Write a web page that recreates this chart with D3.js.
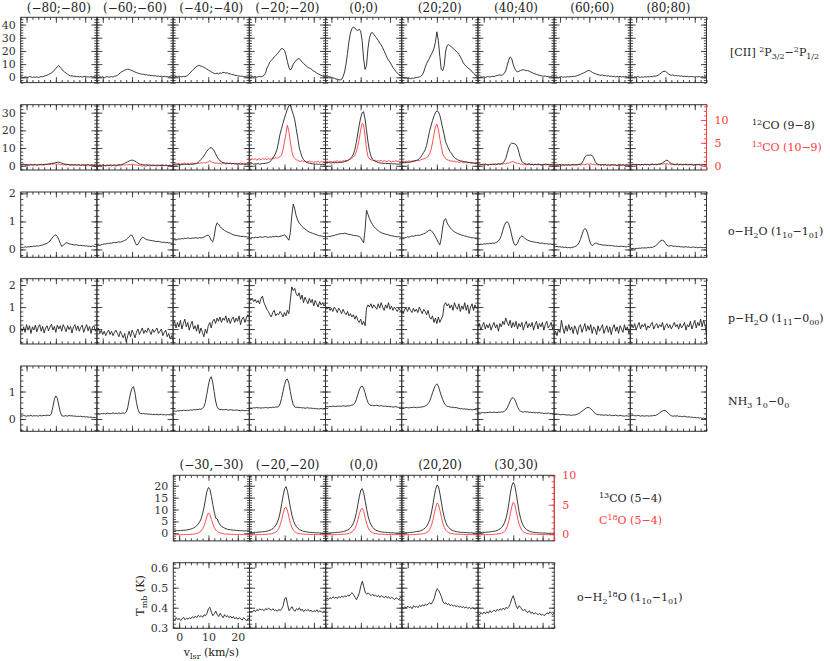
<!DOCTYPE html>
<html>
<head>
<meta charset="utf-8">
<script src="https://cdn.jsdelivr.net/npm/d3@7"></script>
<style>
  body { margin: 0; background: #fff; }
  svg { display: block; }
  .tick text { font-family: "DejaVu Serif", serif; font-size: 11px; }
  .lbl { font-family: "DejaVu Serif", serif; font-size: 12px; white-space: pre; }
  .name { font-size: 11px; }
</style>
</head>
<body>
<div id="chart"></div>
<script>
// channels: -2 .. 24 km/s, 0.5 km/s wide
let velocity = d3.range(0, 53).map(i => -2 + 0.5 * i);

let topOffsets = ["(−80;−80)", "(−60;−60)", "(−40;−40)", "(−20;−20)", "(0;0)", "(20;20)", "(40;40)", "(60;60)", "(80;80)"];
let bottomOffsets = ["(−30,−30)", "(−20,−20)", "(0,0)", "(20,20)", "(30,30)"];

let vTicks = [0, 10, 20];

// [CII] 2P3/2-2P1/2
let cII = [
  [0.5,0.2,-0.3,0.4,0.1,-0.2,0.6,0.3,-0.1,0.2, 0.0,0.4,-0.2,0.3,0.6,0.4,0.9,1.2,1.6,2.2, 2.8,3.4,4.2,5.5,6.8,8.0,9.0,7.5,6.2,4.8, 4.0,3.2,2.4,1.6,1.0,1.2,0.7,0.9,0.5,0.7, 0.3,0.6,0.2,0.5,0.8,0.3,0.4,0.1,0.6,0.2, 0.5,0.3,0.4],
  [0.3,-0.2,0.5,0.1,0.4,-0.3,0.2,0.6,0.0,0.3, 0.5,0.2,0.8,1.0,1.5,2.5,3.5,4.2,4.8,5.5, 5.8,6.2,5.9,5.5,5.0,4.6,4.0,3.6,3.2,2.8, 2.6,2.2,2.4,1.8,2.0,1.5,1.6,1.2,1.4,1.0, 1.2,0.8,1.0,0.6,0.9,0.5,0.7,0.4,0.6,0.3, 0.5,0.2,0.4],
  [0.6,0.2,0.8,0.4,0.9,0.5,0.3,0.7,0.5,0.8, 1.5,2.5,3.8,5.0,6.2,7.2,8.2,8.8,9.0,8.5, 8.2,7.5,7.0,6.2,5.6,5.0,4.2,3.6,3.0,2.8, 3.2,2.6,3.4,3.0,3.8,3.6,3.2,3.4,2.8,2.6, 2.2,2.0,1.6,1.4,1.2,1.0,0.8,0.9,0.6,0.5, 0.4,0.3,0.2],
  [0.5,0.2,0.8,0.3,0.6,0.1,0.4,0.7,0.3,0.8, 1.5,3.0,6.8,9.0,11.5,12.8,14.0,15.5,16.5,17.5, 19.0,20.5,22.0,21.5,20.5,17.0,12.0,7.5,5.5,7.0, 10.0,11.5,13.0,13.8,14.3,13.0,11.5,10.5,9.5,8.5, 7.5,7.0,6.5,5.5,4.8,4.0,3.2,2.5,2.0,1.5, 1.0,0.6,0.3],
  [0.5,0.3,0.6,0.2,0.0,-0.4,-0.8,-1.2,-1.5,-1.8, -2.0,-1.5,0.5,4.0,10.0,18.0,27.0,33.5,37.0,38.0, 37.5,36.0,35.5,36.5,35.0,28.0,14.0,6.0,9.0,22.0, 30.0,33.5,34.0,32.5,31.0,29.5,28.0,26.0,24.5,22.5, 20.0,17.5,15.0,13.0,11.5,9.5,7.5,6.0,4.5,3.2, 2.2,1.5,1.0],
  [0.5,0.0,-0.5,-0.3,-0.8,-0.5,-1.0,-0.6,-0.8,-0.4, -0.2,0.0,0.3,0.8,1.8,4.0,7.5,10.5,12.5,14.5, 17.0,19.0,22.0,26.5,34.5,28.0,16.0,6.0,5.0,9.0, 20.0,24.0,24.8,24.0,23.0,22.0,21.0,20.0,18.8,17.5, 15.5,13.5,11.0,9.5,8.5,7.2,6.5,5.5,4.5,3.0, 2.0,1.0,0.5],
  [0.3,-0.2,0.4,0.1,0.5,-0.1,0.3,0.6,0.2,0.5, 0.8,0.6,1.0,1.4,1.6,1.8,1.5,2.0,3.0,5.0, 9.0,13.0,15.5,14.5,10.0,7.0,5.0,4.2,4.5,5.2, 5.5,5.8,5.5,5.0,5.2,4.6,4.0,3.6,3.0,2.6, 2.2,1.9,1.5,1.3,1.0,0.8,1.0,0.5,0.7,0.3, 0.5,0.2,0.4],
  [0.4,0.0,0.3,-0.2,0.2,0.5,0.0,0.4,0.1,0.5, 0.3,0.6,0.4,0.8,0.7,1.0,1.4,1.8,2.2,2.8, 3.3,3.8,4.4,5.0,5.2,4.6,3.8,3.2,2.8,2.4, 2.0,1.7,1.5,1.8,1.2,1.4,0.9,1.2,0.7,1.0, 0.5,0.8,0.3,0.6,0.4,0.7,0.2,0.5,0.3,0.6, 0.2,0.4,0.1],
  [0.2,0.5,0.0,0.4,0.1,0.6,0.2,-0.1,0.4,0.0, 0.5,0.2,0.6,0.3,0.7,0.4,1.0,0.8,1.2,1.5, 2.5,3.2,4.2,4.6,4.5,3.6,2.6,2.0,1.5,1.8, 1.2,1.5,1.0,1.3,0.8,1.1,0.6,0.9,0.5,0.8, 0.3,0.7,0.4,0.6,0.2,0.5,0.3,0.6,0.1,0.4, 0.2,0.5,0.1]
];

// 12CO (9-8)
let co12 = [
  [0.8,0.5,0.7,0.4,0.6,0.5,0.3,0.6,0.4,0.5, 0.6,0.4,0.5,0.7,0.5,0.6,0.7,0.8,0.9,1.0, 1.1,1.2,1.4,1.6,1.8,1.9,2.0,1.8,1.5,1.2, 1.0,0.8,0.7,0.6,0.5,0.6,0.4,0.5,0.3,0.5, 0.4,0.3,0.5,0.2,0.4,0.3,0.5,0.2,0.3,0.4, 0.2,0.3,0.2],
  [0.5,0.3,0.4,0.2,0.5,0.3,0.1,0.4,0.2,0.3, 0.4,0.2,0.5,0.3,0.4,0.6,0.5,0.8,1.0,1.4, 1.8,2.2,2.7,3.0,3.2,3.0,2.6,2.0,1.5,1.0, 0.8,0.6,0.5,0.4,0.6,0.3,0.5,0.2,0.4,0.3, 0.2,0.4,0.1,0.3,0.2,0.4,0.1,0.3,0.2,0.1, 0.3,0.1,0.2],
  [0.5,0.7,0.4,0.6,0.8,0.5,0.7,0.6,0.9,0.7, 0.8,0.6,0.9,0.8,1.0,1.1,1.3,1.8,2.6,3.5, 4.5,5.5,6.8,8.2,9.2,10.0,10.2,9.6,8.4,6.8, 5.0,3.8,2.8,2.2,1.8,1.6,1.4,1.5,1.2,1.4, 1.1,1.3,1.0,1.2,0.9,1.1,0.8,1.0,0.9,0.7, 0.9,0.8,0.7],
  [1.2,1.0,1.3,0.9,1.1,1.0,1.2,0.9,1.1,1.3, 1.2,1.4,1.5,1.8,2.2,3.0,4.2,5.5,7.2,9.5, 13.5,18.0,21.0,24.0,27.0,29.5,32.0,34.0,34.4,31.5, 29.0,26.0,21.0,16.0,10.5,7.5,5.0,3.5,2.6,2.0, 1.6,1.4,1.3,1.1,1.0,0.9,1.0,0.8,0.9,0.7, 0.8,0.7,0.8],
  [1.8,1.6,1.9,1.7,1.5,1.8,1.6,1.9,1.7,1.8, 2.0,1.8,2.1,2.3,2.6,2.9,3.4,4.2,5.2,6.5, 9.0,13.0,18.0,23.0,27.0,30.0,30.5,26.5,20.0,13.5, 8.5,5.5,3.8,3.0,2.5,2.2,1.8,1.6,1.5,1.4, 1.3,1.4,1.2,1.3,1.1,1.2,1.0,1.1,1.0,0.9, 1.0,0.9,1.0],
  [1.8,2.0,1.7,1.9,1.8,2.0,2.1,2.3,2.5,2.8, 3.0,3.3,4.0,5.0,6.2,7.5,9.0,11.5,15.5,19.5, 22.5,25.5,28.0,30.0,31.0,30.5,28.5,25.0,21.0,17.5, 13.5,11.5,9.5,8.0,7.0,5.5,4.6,4.0,3.5,3.0, 2.8,2.6,2.4,2.2,2.3,2.0,1.8,1.9,1.6,1.5, 1.4,1.3,1.4],
  [0.6,0.9,0.5,0.8,0.6,1.0,0.7,0.5,0.8,0.6, 0.9,0.7,1.0,0.8,1.1,1.0,1.2,1.5,2.5,4.0, 7.0,10.0,12.0,12.8,12.6,12.4,12.0,10.5,7.5,4.5, 2.5,1.6,1.2,1.0,0.8,0.9,0.7,0.8,0.6,0.9, 0.7,0.5,0.8,0.6,0.4,0.7,0.5,0.8,0.6,0.4, 0.7,0.5,0.6],
  [0.4,0.6,0.3,0.5,0.7,0.4,0.6,0.3,0.5,0.4, 0.6,0.3,0.5,0.7,0.4,0.6,0.5,0.8,1.0,1.5, 3.0,5.0,5.8,6.0,5.9,6.1,5.8,4.5,2.5,1.2, 0.8,0.6,0.5,0.7,0.4,0.6,0.3,0.5,0.4,0.6, 0.3,0.5,0.4,0.2,0.5,0.3,0.4,0.6,0.3,0.4, 0.5,0.3,0.4],
  [0.7,0.5,0.8,0.6,0.9,0.5,0.7,0.6,0.8,0.5, 0.7,0.6,0.8,0.5,0.7,0.9,0.6,0.8,0.7,0.9, 1.0,1.2,1.6,2.2,2.8,3.2,2.6,1.8,1.2,0.9, 0.8,0.6,0.9,0.5,0.7,0.8,0.5,0.7,0.6,0.8, 0.5,0.7,0.6,0.4,0.7,0.5,0.8,0.6,0.4,0.6, 0.7,0.5,0.6]
];

// 13CO (10-9), right-hand scale
let co13 = [
  [0.35,0.2,0.4,0.15,0.3,0.1,0.25,0.35,0.1,0.2, 0.3,0.05,0.25,0.15,0.35,0.2,0.1,0.3,0.2,0.35, 0.25,0.4,0.3,0.45,0.35,0.3,0.4,0.2,0.3,0.15, 0.25,0.1,0.3,0.2,0.05,0.25,0.15,0.3,0.1,0.2, 0.25,0.05,0.2,0.3,0.1,0.2,0.35,0.15,0.25,0.1, 0.2,0.3,0.15],
  [0.1,0.0,0.15,-0.05,0.1,0.05,-0.1,0.1,0.0,0.15, -0.05,0.1,0.0,-0.1,0.05,0.15,0.0,0.1,0.2,0.1, 0.25,0.15,0.3,0.2,0.35,0.25,0.15,0.2,0.05,0.1, 0.0,-0.1,0.05,-0.15,0.0,0.1,-0.1,0.05,-0.05,0.1, 0.0,-0.1,0.1,0.05,-0.05,0.1,0.0,0.15,-0.05,0.1, 0.05,-0.05,0.1],
  [0.5,0.35,0.6,0.4,0.55,0.3,0.5,0.45,0.6,0.4, 0.55,0.35,0.5,0.6,0.4,0.55,0.45,0.6,0.5,0.65, 0.55,0.7,0.6,0.75,0.85,1.1,0.9,0.7,0.6,0.55, 0.6,0.45,0.55,0.4,0.6,0.5,0.35,0.55,0.45,0.6, 0.4,0.5,0.55,0.35,0.5,0.45,0.6,0.4,0.5,0.55, 0.45,0.5,0.4],
  [1.4,1.2,1.5,1.3,1.6,1.2,1.4,1.5,1.3,1.6, 1.4,1.5,1.3,1.6,1.4,1.5,1.7,1.5,1.8,1.6, 1.8,2.0,2.3,3.5,5.2,7.0,8.9,7.5,5.3,3.2, 2.0,1.6,1.3,1.2,1.0,0.9,1.1,0.9,1.0,0.8, 0.9,1.0,0.8,0.9,0.7,0.9,0.8,1.0,0.7,0.9, 0.8,0.9,0.7],
  [0.9,1.0,0.8,1.0,0.9,0.8,1.0,0.9,1.1,0.9, 1.0,0.9,1.1,1.0,1.2,1.1,1.3,1.4,1.6,1.9, 2.3,3.0,4.2,5.8,7.8,9.3,9.0,6.5,3.6,2.0, 1.5,1.3,1.2,1.1,1.2,1.0,1.1,1.0,1.2,0.9, 1.1,1.0,0.9,1.1,1.0,0.8,1.0,0.9,1.1,0.9, 1.0,0.9,1.0],
  [0.9,1.0,0.8,1.0,0.9,1.1,0.9,1.0,1.1,1.0, 1.1,1.2,1.1,1.3,1.4,1.5,1.6,1.8,2.0,2.6, 3.5,5.0,6.8,8.5,9.1,8.0,6.0,4.2,2.6,2.0, 1.5,1.3,1.2,1.0,1.1,0.9,1.0,0.8,0.9,0.7, 0.8,0.9,0.6,0.8,0.7,0.6,0.8,0.5,0.7,0.6, 0.5,0.6,0.5],
  [0.3,0.1,0.35,0.2,0.4,0.15,0.3,0.05,0.25,0.35, 0.2,0.4,0.15,0.3,0.45,0.25,0.4,0.3,0.5,0.4, 0.6,0.5,0.7,0.8,0.9,0.75,0.6,0.45,0.55,0.3, 0.4,0.2,0.35,0.15,0.3,0.45,0.2,0.35,0.1,0.3, 0.2,0.4,0.25,0.1,0.3,0.2,0.45,0.15,0.3,0.25, 0.1,0.3,0.2],
  [0.2,0.05,0.25,0.1,0.3,0.0,0.2,0.15,0.3,0.05, 0.2,0.1,0.25,0.05,0.3,0.15,0.2,0.35,0.1,0.25, 0.3,0.2,0.35,0.4,0.3,0.45,0.25,0.3,0.15,0.3, 0.1,0.25,0.0,0.2,0.15,0.3,0.05,0.2,-0.05,0.15, 0.25,0.1,0.2,-0.05,0.15,0.3,0.05,0.2,0.1,0.25, 0.05,0.15,0.1],
  [0.3,0.15,0.35,0.2,0.1,0.3,0.25,0.05,0.3,0.2, 0.35,0.15,0.3,0.1,0.25,0.4,0.2,0.3,0.15,0.35, 0.25,0.4,0.3,0.45,0.35,0.5,0.3,0.4,0.2,0.35, 0.15,0.3,0.4,0.2,0.35,0.1,0.3,0.25,0.4,0.15, 0.3,0.2,0.35,0.1,0.25,0.3,0.15,0.35,0.2,0.1, 0.3,0.2,0.25]
];

// o-H2O (1_10-1_01)
let oH2O = [
  [0.05,0.08,0.06,0.1,0.08,0.1,0.09,0.11,0.1,0.12, 0.11,0.13,0.12,0.14,0.15,0.16,0.18,0.2,0.22,0.26, 0.3,0.38,0.45,0.5,0.52,0.46,0.35,0.22,0.11,0.14, 0.2,0.24,0.23,0.2,0.19,0.18,0.17,0.16,0.17,0.15, 0.14,0.15,0.13,0.14,0.12,0.13,0.11,0.12,0.1,0.13, 0.11,0.1,0.12],
  [0.12,0.15,0.14,0.17,0.18,0.2,0.19,0.22,0.21,0.23, 0.22,0.24,0.25,0.24,0.26,0.27,0.26,0.28,0.3,0.32, 0.35,0.4,0.46,0.51,0.5,0.4,0.26,0.16,0.18,0.28, 0.38,0.43,0.42,0.38,0.35,0.34,0.33,0.32,0.31,0.3, 0.29,0.28,0.29,0.27,0.26,0.25,0.26,0.24,0.25,0.23, 0.24,0.22,0.23],
  [0.32,0.35,0.34,0.36,0.38,0.37,0.39,0.38,0.4,0.39, 0.41,0.4,0.39,0.41,0.4,0.42,0.41,0.4,0.42,0.41, 0.42,0.44,0.47,0.5,0.51,0.45,0.32,0.27,0.45,0.8, 0.95,0.9,0.82,0.76,0.72,0.68,0.65,0.62,0.6,0.58, 0.55,0.52,0.51,0.5,0.49,0.48,0.47,0.46,0.47,0.45, 0.46,0.44,0.45],
  [0.42,0.4,0.43,0.41,0.44,0.43,0.42,0.45,0.44,0.43, 0.45,0.46,0.44,0.43,0.45,0.44,0.46,0.45,0.47,0.46, 0.45,0.47,0.48,0.5,0.52,0.48,0.4,0.33,0.6,1.2, 1.62,1.45,1.2,1.05,0.95,0.88,0.82,0.77,0.73,0.69, 0.65,0.62,0.6,0.58,0.56,0.54,0.53,0.5,0.49,0.48, 0.47,0.46,0.45],
  [0.46,0.45,0.47,0.46,0.48,0.49,0.5,0.52,0.53,0.55, 0.56,0.57,0.56,0.58,0.57,0.55,0.54,0.53,0.52,0.5, 0.5,0.49,0.48,0.46,0.42,0.33,0.24,0.7,1.4,1.25, 1.1,0.98,0.9,0.82,0.76,0.71,0.67,0.63,0.6,0.58, 0.56,0.55,0.53,0.52,0.5,0.49,0.48,0.47,0.46,0.45, 0.46,0.44,0.45],
  [0.4,0.42,0.41,0.43,0.45,0.44,0.46,0.48,0.47,0.49, 0.5,0.51,0.5,0.52,0.54,0.56,0.58,0.62,0.66,0.69, 0.68,0.62,0.55,0.45,0.35,0.25,0.16,0.4,0.8,1.05, 1.1,0.95,0.85,0.78,0.72,0.67,0.63,0.6,0.57,0.55, 0.53,0.51,0.5,0.48,0.47,0.45,0.44,0.43,0.41,0.42, 0.4,0.41,0.39],
  [0.18,0.17,0.19,0.18,0.2,0.19,0.21,0.2,0.22,0.21, 0.23,0.22,0.24,0.26,0.3,0.38,0.5,0.68,0.85,0.96, 0.99,0.92,0.75,0.52,0.3,0.17,0.15,0.22,0.35,0.44, 0.48,0.45,0.4,0.36,0.33,0.31,0.29,0.28,0.27,0.26, 0.25,0.24,0.23,0.22,0.23,0.21,0.2,0.21,0.19,0.2, 0.19,0.18,0.2],
  [0.12,0.1,0.11,0.09,0.1,0.08,0.09,0.07,0.08,0.06, 0.07,0.06,0.07,0.08,0.1,0.12,0.16,0.24,0.36,0.52, 0.68,0.75,0.7,0.55,0.35,0.2,0.14,0.17,0.23,0.22, 0.19,0.18,0.17,0.16,0.15,0.16,0.14,0.15,0.13,0.14, 0.13,0.12,0.11,0.12,0.1,0.11,0.12,0.1,0.11,0.09, 0.1,0.11,0.09],
  [0.05,0.03,0.04,0.02,0.04,0.03,0.05,0.04,0.06,0.05, 0.06,0.05,0.07,0.06,0.08,0.07,0.1,0.12,0.16,0.22, 0.28,0.32,0.33,0.3,0.22,0.15,0.12,0.13,0.14,0.12, 0.11,0.12,0.1,0.11,0.09,0.1,0.08,0.09,0.1,0.08, 0.09,0.07,0.08,0.09,0.07,0.08,0.06,0.07,0.08,0.06, 0.07,0.06,0.08]
];

// p-H2O (1_11-0_00)
let pH2O = [
  [0.05,-0.1,0.1,-0.15,0.2,-0.05,0.15,-0.2,0.1,-0.05, 0.18,-0.12,0.08,0.2,-0.1,0.12,-0.18,0.05,0.15,-0.08, 0.1,0.22,-0.05,0.12,-0.15,0.18,0.0,0.15,-0.1,0.2, 0.05,-0.12,0.16,-0.02,0.12,-0.18,0.1,0.2,-0.06,0.14, -0.1,0.08,0.18,-0.15,0.05,0.2,-0.08,0.12,-0.2,0.1, 0.15,-0.1,0.05],
  [-0.1,0.05,-0.2,-0.05,-0.25,-0.1,-0.3,-0.15,-0.05,-0.25, -0.1,-0.3,-0.15,-0.05,-0.2,-0.35,-0.1,-0.25,-0.4,-0.2, -0.6,-0.3,-0.1,-0.35,-0.05,-0.2,-0.4,-0.15,0.0,-0.25, -0.1,0.05,-0.2,-0.05,-0.15,0.05,-0.1,-0.25,0.0,-0.15, -0.05,0.05,-0.2,-0.1,0.0,-0.3,-0.15,-0.05,-0.35,-0.2, -0.45,-0.3,-0.5],
  [0.2,0.35,0.05,0.3,0.1,0.4,0.0,0.25,0.45,0.1, 0.3,-0.05,0.2,0.35,0.0,0.15,-0.1,0.2,-0.2,0.05, -0.15,-0.35,0.0,-0.2,0.15,0.3,0.05,0.35,0.45,0.25, 0.5,0.35,0.55,0.3,0.5,0.4,0.6,0.3,0.5,0.25, 0.45,0.55,0.3,0.5,0.35,0.6,0.2,0.45,0.55,0.3, 0.5,0.65,0.55],
  [1.45,1.3,1.4,1.25,1.35,1.2,1.3,1.15,1.4,1.5, 1.2,1.05,0.9,0.8,0.65,0.55,0.75,0.85,0.6,0.7, 0.65,0.8,0.7,0.55,0.75,0.6,0.85,0.7,1.3,1.92, 1.75,1.85,1.6,1.5,1.65,1.35,1.55,1.2,1.45,1.3, 1.15,1.4,1.2,1.35,1.05,1.3,1.15,1.0,1.25,1.1, 1.2,1.05,1.15],
  [1.05,0.9,1.0,0.85,0.95,0.8,1.0,0.9,0.75,0.95, 0.85,0.7,0.9,0.75,0.65,0.8,0.6,0.7,0.55,0.65, 0.45,0.6,0.4,0.3,0.45,0.2,0.35,0.15,0.95,1.1, 1.0,1.15,0.95,1.1,1.0,0.9,1.15,0.95,1.2,1.0, 0.85,1.1,0.95,1.2,0.9,1.05,0.85,1.0,0.9,0.8, 0.95,0.85,0.75],
  [0.85,0.7,0.9,0.95,0.8,1.0,0.85,0.75,0.95,0.8, 0.9,0.75,1.0,0.85,0.7,0.9,0.8,0.65,0.85,0.55, 0.45,0.6,0.3,0.5,0.25,0.55,0.3,0.45,0.6,1.1, 1.2,1.05,1.15,0.95,1.1,0.85,1.2,1.0,0.9,1.15, 0.8,1.05,0.9,1.2,0.85,1.1,0.7,1.0,1.15,0.85, 1.1,0.95,1.0],
  [0.1,0.25,-0.05,0.15,0.3,0.0,0.2,0.05,0.25,-0.05, 0.15,0.3,0.05,0.2,-0.1,0.25,0.1,0.35,0.2,0.5, 0.3,0.15,0.4,0.05,0.3,0.1,0.35,0.0,0.25,0.1, 0.3,-0.05,0.2,0.35,0.05,0.25,0.1,0.3,-0.05,0.2, 0.35,0.0,0.25,0.1,0.3,-0.05,0.2,0.35,0.05,0.15, 0.3,0.0,0.2],
  [-0.25,-0.1,-0.3,0.0,-0.15,0.4,0.05,-0.2,0.15,-0.1, 0.2,-0.05,0.1,-0.2,0.15,0.0,-0.25,0.1,0.2,-0.15, 0.05,0.25,-0.1,0.15,-0.05,0.2,-0.2,0.1,0.0,-0.25, 0.15,-0.1,0.05,0.2,-0.2,0.0,0.15,-0.15,0.1,-0.25, 0.05,0.2,-0.1,0.1,-0.2,0.15,0.0,-0.15,0.2,-0.05, 0.1,-0.2,0.0],
  [0.0,0.2,0.05,0.25,-0.05,0.15,0.3,0.0,0.2,0.1, 0.25,-0.05,0.15,0.05,0.2,0.3,0.0,0.15,0.25,0.05, 0.2,0.1,0.3,-0.05,0.15,0.25,0.05,0.2,0.0,0.15, 0.3,0.1,0.2,0.0,0.25,0.05,0.15,0.3,-0.05,0.2, 0.1,0.35,0.0,0.2,0.4,0.05,0.3,0.15,0.45,0.1, 0.4,0.2,-0.3]
];

// NH3 1_0-0_0
let nh3 = [
  [0.12,0.1,0.13,0.11,0.1,0.12,0.11,0.13,0.1,0.12, 0.11,0.12,0.1,0.13,0.11,0.12,0.13,0.12,0.14,0.13, 0.12,0.2,0.45,0.72,0.84,0.75,0.5,0.25,0.12,0.1, 0.11,0.12,0.1,0.13,0.11,0.12,0.1,0.11,0.09,0.1, 0.09,0.1,0.08,0.09,0.07,0.08,0.07,0.06,0.07,0.05, 0.06,0.05,0.06],
  [0.18,0.19,0.17,0.2,0.19,0.2,0.18,0.21,0.2,0.19, 0.2,0.22,0.2,0.21,0.19,0.22,0.2,0.21,0.22,0.2, 0.25,0.4,0.7,0.95,1.12,1.18,0.95,0.6,0.35,0.22, 0.2,0.19,0.2,0.18,0.19,0.17,0.18,0.17,0.16,0.17, 0.16,0.17,0.15,0.16,0.17,0.15,0.16,0.14,0.16,0.15, 0.16,0.14,0.15],
  [0.27,0.29,0.28,0.3,0.29,0.31,0.3,0.32,0.31,0.3, 0.32,0.31,0.33,0.32,0.34,0.33,0.35,0.34,0.36,0.35, 0.38,0.44,0.6,0.9,1.2,1.45,1.54,1.35,1.0,0.65, 0.45,0.36,0.34,0.35,0.33,0.34,0.35,0.33,0.32,0.34, 0.33,0.32,0.31,0.33,0.32,0.31,0.3,0.32,0.31,0.3, 0.31,0.3,0.32],
  [0.38,0.4,0.39,0.41,0.4,0.42,0.4,0.41,0.39,0.41, 0.4,0.42,0.41,0.4,0.42,0.41,0.43,0.42,0.44,0.43, 0.45,0.55,0.75,1.0,1.25,1.42,1.46,1.3,1.0,0.72, 0.52,0.44,0.42,0.43,0.41,0.42,0.4,0.41,0.39,0.4, 0.41,0.39,0.4,0.38,0.39,0.37,0.38,0.36,0.37,0.38, 0.36,0.37,0.36],
  [0.44,0.45,0.44,0.46,0.45,0.47,0.46,0.45,0.47,0.46, 0.47,0.46,0.48,0.47,0.46,0.48,0.47,0.49,0.5,0.52, 0.58,0.7,0.88,1.05,1.17,1.2,1.12,0.95,0.75,0.6, 0.52,0.49,0.5,0.48,0.49,0.5,0.48,0.47,0.49,0.47, 0.46,0.47,0.45,0.46,0.44,0.45,0.43,0.44,0.45,0.43, 0.42,0.43,0.41],
  [0.4,0.41,0.4,0.42,0.41,0.4,0.42,0.41,0.43,0.42, 0.41,0.43,0.42,0.43,0.44,0.45,0.47,0.5,0.56,0.64, 0.78,0.95,1.1,1.22,1.28,1.2,1.02,0.85,0.7,0.58, 0.5,0.46,0.45,0.44,0.42,0.43,0.41,0.42,0.4,0.39, 0.37,0.38,0.36,0.37,0.35,0.36,0.34,0.35,0.33,0.34, 0.35,0.33,0.34],
  [0.22,0.23,0.21,0.24,0.23,0.22,0.24,0.23,0.25,0.24, 0.23,0.25,0.24,0.23,0.25,0.24,0.26,0.25,0.28,0.32, 0.4,0.52,0.65,0.75,0.78,0.72,0.6,0.45,0.34,0.28, 0.26,0.25,0.27,0.25,0.26,0.24,0.25,0.23,0.24,0.22, 0.23,0.22,0.24,0.21,0.22,0.2,0.21,0.2,0.22,0.19, 0.2,0.19,0.21],
  [0.17,0.16,0.18,0.17,0.16,0.15,0.17,0.16,0.15,0.14, 0.15,0.14,0.13,0.15,0.14,0.16,0.18,0.2,0.24,0.28, 0.32,0.36,0.4,0.42,0.41,0.37,0.32,0.26,0.2,0.17, 0.15,0.16,0.14,0.15,0.13,0.15,0.14,0.13,0.15,0.12, 0.13,0.12,0.14,0.12,0.11,0.13,0.12,0.11,0.1,0.12, 0.11,0.1,0.11],
  [0.13,0.12,0.14,0.12,0.11,0.13,0.12,0.1,0.12,0.11, 0.1,0.12,0.11,0.1,0.12,0.11,0.13,0.12,0.15,0.18, 0.22,0.26,0.29,0.31,0.3,0.26,0.2,0.15,0.12,0.1, 0.11,0.1,0.12,0.09,0.1,0.08,0.09,0.1,0.08,0.07, 0.08,0.06,0.07,0.05,0.06,0.04,0.05,0.03,0.04,0.02, 0.03,0.01,0.02]
];

// 13CO (5-4)
let co13_54 = [
  [1.0,1.0,1.1,1.1,1.1,1.2,1.2,1.3,1.3,1.4, 1.5,1.6,1.8,2.0,2.3,2.7,3.2,3.9,4.8,6.2, 8.2,11.0,14.5,17.8,19.3,18.5,15.5,12.0,8.8,6.3, 6.0,4.5,3.5,2.9,2.5,2.2,1.9,1.7,1.6,1.5, 1.4,1.3,1.3,1.2,1.2,1.1,1.1,1.1,1.0,1.0, 1.0,1.0,1.0],
  [0.3,0.3,0.3,0.4,0.4,0.4,0.5,0.5,0.6,0.6, 0.7,0.8,0.9,1.1,1.3,1.6,2.0,2.6,3.4,4.6, 6.4,9.0,12.5,16.0,18.8,19.6,17.5,14.0,10.5,7.5, 5.3,3.8,2.8,2.1,1.6,1.3,1.0,0.8,0.7,0.6, 0.5,0.4,0.4,0.3,0.3,0.2,0.2,0.2,0.1,0.1, 0.1,0.1,0.1],
  [0.1,0.1,0.1,0.2,0.2,0.2,0.3,0.3,0.4,0.4, 0.5,0.6,0.7,0.9,1.1,1.4,1.8,2.4,3.2,4.4, 6.2,8.8,12.2,15.6,18.2,18.8,16.8,13.4,10.0,7.0, 4.9,3.5,2.5,1.9,1.4,1.1,0.9,0.7,0.6,0.5, 0.4,0.4,0.3,0.3,0.2,0.2,0.2,0.1,0.1,0.1, 0.1,0.1,0.1],
  [0.2,0.2,0.2,0.3,0.3,0.3,0.4,0.4,0.5,0.6, 0.7,0.8,0.9,1.1,1.4,1.8,2.3,3.0,4.2,5.8, 8.2,11.5,15.2,18.5,20.3,19.5,16.5,12.8,9.2,6.5, 4.5,3.2,2.4,1.8,1.4,1.1,0.9,0.7,0.6,0.5, 0.4,0.4,0.3,0.3,0.3,0.2,0.2,0.2,0.2,0.1, 0.1,0.1,0.1],
  [0.3,0.3,0.3,0.4,0.4,0.4,0.5,0.5,0.6,0.7, 0.8,0.9,1.0,1.2,1.5,1.9,2.4,3.2,4.4,6.2, 8.8,12.5,16.8,20.0,21.4,20.2,16.8,12.8,9.0,6.2, 4.3,3.0,2.2,1.6,1.2,0.9,0.7,0.5,0.4,0.3, 0.3,0.2,0.2,0.1,0.1,0.1,0.1,0.0,0.0,0.0, 0.0,0.0,0.0]
];

// C18O (5-4), right-hand scale
let c18o_54 = [
  [-0.1,-0.1,-0.1,-0.09,-0.09,-0.09,-0.08,-0.08,-0.07,-0.07, -0.06,-0.05,-0.03,-0.01,0.02,0.06,0.12,0.21,0.35,0.57, 0.9,1.4,2.15,3.05,3.6,3.3,2.5,1.7,1.1,0.7, 0.45,0.3,0.2,0.13,0.08,0.04,0.02,0.0,-0.02,-0.03, -0.04,-0.05,-0.05,-0.06,-0.06,-0.07,-0.07,-0.07,-0.08,-0.08, -0.08,-0.08,-0.08],
  [-0.1,-0.1,-0.1,-0.1,-0.09,-0.09,-0.08,-0.08,-0.07,-0.06, -0.05,-0.04,-0.02,0.0,0.03,0.07,0.13,0.22,0.36,0.6, 0.98,1.6,2.5,3.6,4.4,4.6,3.9,2.8,1.8,1.1, 0.65,0.4,0.25,0.15,0.09,0.05,0.02,0.0,-0.02,-0.03, -0.04,-0.05,-0.06,-0.06,-0.07,-0.07,-0.08,-0.08,-0.08,-0.09, -0.09,-0.09,-0.1],
  [-0.1,-0.1,-0.1,-0.1,-0.09,-0.09,-0.08,-0.08,-0.07,-0.06, -0.05,-0.04,-0.02,0.0,0.03,0.07,0.13,0.22,0.36,0.6, 0.98,1.6,2.5,3.5,4.2,4.4,3.8,2.7,1.75,1.05, 0.62,0.38,0.24,0.15,0.09,0.05,0.02,0.0,-0.02,-0.03, -0.04,-0.05,-0.06,-0.06,-0.07,-0.07,-0.08,-0.08,-0.08,-0.09, -0.09,-0.09,-0.1],
  [-0.1,-0.1,-0.1,-0.1,-0.09,-0.09,-0.08,-0.08,-0.07,-0.06, -0.05,-0.03,-0.01,0.02,0.05,0.1,0.17,0.28,0.47,0.8, 1.35,2.2,3.3,4.5,5.3,5.0,4.0,2.8,1.8,1.1, 0.65,0.4,0.25,0.15,0.09,0.05,0.02,0.0,-0.02,-0.03, -0.04,-0.05,-0.06,-0.06,-0.07,-0.07,-0.08,-0.08,-0.08,-0.09, -0.09,-0.09,-0.1],
  [-0.1,-0.1,-0.1,-0.1,-0.09,-0.09,-0.08,-0.08,-0.07,-0.06, -0.05,-0.03,-0.01,0.02,0.05,0.1,0.17,0.28,0.47,0.8, 1.4,2.3,3.5,4.7,5.4,5.0,3.9,2.7,1.7,1.05, 0.62,0.38,0.24,0.15,0.09,0.05,0.02,0.0,-0.02,-0.03, -0.04,-0.05,-0.06,-0.06,-0.07,-0.07,-0.08,-0.08,-0.08,-0.09, -0.09,-0.09,-0.1]
];

// o-H2-18O (1_10-1_01)
let oH218O = [
  [0.345,0.338,0.35,0.34,0.347,0.336,0.344,0.352,0.34,0.348, 0.342,0.35,0.345,0.355,0.348,0.358,0.35,0.362,0.355,0.36, 0.352,0.365,0.36,0.372,0.395,0.402,0.378,0.36,0.37,0.383, 0.365,0.356,0.372,0.36,0.35,0.365,0.355,0.36,0.35,0.358, 0.348,0.356,0.344,0.352,0.342,0.35,0.345,0.338,0.35,0.342, 0.335,0.347,0.34],
  [0.375,0.382,0.378,0.388,0.38,0.39,0.385,0.395,0.388,0.392, 0.385,0.396,0.39,0.398,0.392,0.387,0.395,0.385,0.39,0.382, 0.392,0.385,0.395,0.41,0.445,0.452,0.415,0.385,0.395,0.405, 0.39,0.382,0.395,0.388,0.4,0.386,0.392,0.38,0.39,0.384, 0.392,0.382,0.388,0.378,0.386,0.38,0.39,0.378,0.384,0.38, 0.376,0.382,0.378],
  [0.44,0.448,0.442,0.45,0.445,0.455,0.448,0.452,0.446,0.456, 0.45,0.458,0.452,0.46,0.455,0.462,0.458,0.468,0.475,0.465, 0.452,0.44,0.455,0.475,0.51,0.532,0.505,0.475,0.468,0.474, 0.466,0.46,0.468,0.458,0.464,0.455,0.462,0.452,0.46,0.455, 0.45,0.458,0.448,0.455,0.445,0.452,0.447,0.44,0.45,0.445, 0.44,0.452,0.446],
  [0.402,0.396,0.405,0.398,0.408,0.4,0.404,0.395,0.41,0.402, 0.408,0.4,0.412,0.405,0.415,0.408,0.418,0.412,0.42,0.425, 0.418,0.43,0.445,0.475,0.495,0.488,0.472,0.455,0.43,0.42, 0.425,0.415,0.42,0.41,0.415,0.408,0.412,0.405,0.41,0.402, 0.408,0.4,0.405,0.398,0.404,0.396,0.402,0.395,0.4,0.397, 0.393,0.4,0.396],
  [0.372,0.365,0.375,0.368,0.378,0.37,0.38,0.372,0.385,0.376, 0.382,0.388,0.38,0.392,0.385,0.395,0.388,0.398,0.39,0.402, 0.396,0.405,0.42,0.445,0.46,0.435,0.408,0.395,0.41,0.402, 0.39,0.385,0.392,0.38,0.376,0.385,0.372,0.378,0.368,0.375, 0.37,0.365,0.372,0.362,0.368,0.36,0.366,0.375,0.368,0.38, 0.372,0.365,0.375]
];

// ---------------------------------------------------------------
let svgWidth = 830;
let svgHeight = 661;
let red = "#ff3b3b";
let ink = "#222";
let frameColor = "#333";

let panelWidth = 76.2;
let topLeft = 20.7;
let topRowsY = [17.3, 104.7, 192, 278.7, 366];
let topHeight = 65.3;
let botLeft = 173.3;
let botRowsY = [475.3, 562.7];
let botHeight = 65.6;

let svg = d3.select("#chart").append("svg")
  .attr("width", svgWidth)
  .attr("height", svgHeight);

let clipCount = 0;

function minorValues(domain, step) {
  let lo = Math.ceil(domain[0] / step - 1e-9);
  let hi = Math.floor(domain[1] / step + 1e-9);
  return d3.range(lo, hi + 1).map(k => +(k * step).toFixed(4));
}

// one axis = a minor-tick group + a major-tick group, ticks pointing inward
function addAxis(g, make, scale, pos, major, minor, labels, color, pad) {
  let gMinor = g.append("g")
    .attr("transform", `translate(${pos[0]},${pos[1]})`)
    .call(make(scale).tickValues(minor).tickSizeInner(-2.6).tickSizeOuter(0).tickFormat(""));
  let gMajor = g.append("g")
    .attr("transform", `translate(${pos[0]},${pos[1]})`)
    .call(make(scale).tickValues(major).tickSizeInner(-5.5).tickSizeOuter(0)
      .tickPadding(pad)
      .tickFormat(labels ? (d => String(d)) : ""));
  [gMinor, gMajor].forEach(a => {
    a.select(".domain").remove();
    a.selectAll("line").attr("stroke", color).attr("stroke-width", 0.9);
    a.selectAll("text").attr("fill", color);
  });
}

function drawPanel(left, top, h, cfg) {
  let x = d3.scaleLinear().domain([-2, 24]).range([0, panelWidth]);
  let y = d3.scaleLinear().domain(cfg.domain).range([h, 0]);
  let g = svg.append("g").attr("transform", `translate(${left},${top})`);

  let id = "clip" + (clipCount++);
  g.append("clipPath").attr("id", id)
    .append("rect").attr("width", panelWidth).attr("height", h);

  let xMinor = minorValues([-2, 24], 2);
  addAxis(g, d3.axisBottom, x, [0, h], vTicks, xMinor, cfg.xLabels, frameColor, 5);
  addAxis(g, d3.axisTop, x, [0, 0], vTicks, xMinor, false, frameColor, 3);

  let yMinor = minorValues(cfg.domain, cfg.minorStep);
  addAxis(g, d3.axisLeft, y, [0, 0], cfg.major, yMinor, cfg.yLabels, frameColor, 5);

  if (cfg.redAxis) {
    let yRed = d3.scaleLinear().domain(cfg.redDomain).range([h, 0]);
    addAxis(g, d3.axisRight, yRed, [panelWidth, 0], cfg.redMajor,
      minorValues(cfg.redDomain, cfg.redMinorStep), true, red, 8);
  } else {
    addAxis(g, d3.axisRight, y, [panelWidth, 0], cfg.major, yMinor, false, frameColor, 5);
  }

  g.append("rect")
    .attr("width", panelWidth).attr("height", h)
    .attr("fill", "none").attr("stroke", frameColor).attr("stroke-width", 1);
  if (cfg.redAxis) {
    g.append("line")
      .attr("x1", panelWidth).attr("x2", panelWidth).attr("y1", 0).attr("y2", h)
      .attr("stroke", red).attr("stroke-width", 1);
  }

  let lineBlack = d3.line().x((d, i) => x(velocity[i])).y(d => y(d));
  let plot = g.append("g").attr("clip-path", `url(#${id})`);
  if (cfg.redSeries) {
    let yR = d3.scaleLinear().domain(cfg.redDomain).range([h, 0]);
    let lineRed = d3.line().x((d, i) => x(velocity[i])).y(d => yR(d));
    plot.append("path").datum(cfg.redSeries)
      .attr("d", lineRed).attr("fill", "none")
      .attr("stroke", red).attr("stroke-width", 0.9).attr("stroke-linejoin", "round");
  }
  plot.append("path").datum(cfg.series)
    .attr("d", lineBlack).attr("fill", "none")
    .attr("stroke", ink).attr("stroke-width", 0.9).attr("stroke-linejoin", "round");
}

// rich text with super/subscripts
function richText(x, y, parts, color, anchor, transform) {
  let t = svg.append("text").attr("class", "lbl name")
    .attr("x", x).attr("y", y).attr("fill", color)
    .attr("text-anchor", anchor || "start");
  if (transform) t.attr("transform", transform);
  let shift = 0;
  parts.forEach(p => {
    let want = p[1] === "sup" ? -4.5 : p[1] === "sub" ? 3 : 0;
    let ts = t.append("tspan").text(p[0]).attr("dy", want - shift);
    if (p[1]) ts.attr("font-size", 8);
    shift = want;
  });
}

// top grid
let topRows = [
  { data: cII, domain: [-4, 45.5], major: [0, 10, 20, 30, 40], minorStep: 2 },
  { data: co12, red: co13, domain: [-2.4, 34.5], major: [0, 10, 20, 30], minorStep: 2,
    redDomain: [-0.94, 13.35], redMajor: [0, 5, 10], redMinorStep: 1 },
  { data: oH2O, domain: [-0.28, 2.05], major: [0, 1, 2], minorStep: 0.2 },
  { data: pH2O, domain: [-0.68, 2.29], major: [0, 1, 2], minorStep: 0.2 },
  { data: nh3, domain: [-0.45, 1.93], major: [0, 1], minorStep: 0.2 }
];

topRows.forEach((row, r) => {
  row.data.forEach((series, c) => {
    drawPanel(topLeft + c * panelWidth, topRowsY[r], topHeight, {
      series: series,
      redSeries: row.red ? row.red[c] : null,
      domain: row.domain,
      major: row.major,
      minorStep: row.minorStep,
      yLabels: c === 0,
      xLabels: false,
      redAxis: row.red && c === row.data.length - 1,
      redDomain: row.redDomain,
      redMajor: row.redMajor,
      redMinorStep: row.redMinorStep
    });
  });
});

// bottom grid
let botRows = [
  { data: co13_54, red: c18o_54, domain: [-3.2, 24.4], major: [0, 5, 10, 15, 20], minorStep: 1,
    redDomain: [-1.15, 10], redMajor: [0, 5, 10], redMinorStep: 1 },
  { data: oH218O, domain: [0.297, 0.625], major: [0.3, 0.4, 0.5, 0.6], minorStep: 0.02 }
];

botRows.forEach((row, r) => {
  row.data.forEach((series, c) => {
    drawPanel(botLeft + c * panelWidth, botRowsY[r], botHeight, {
      series: series,
      redSeries: row.red ? row.red[c] : null,
      domain: row.domain,
      major: row.major,
      minorStep: row.minorStep,
      yLabels: c === 0,
      xLabels: r === 1 && c === 0,
      redAxis: row.red && c === row.data.length - 1,
      redDomain: row.redDomain,
      redMajor: row.redMajor,
      redMinorStep: row.redMinorStep
    });
  });
});

// position titles
topOffsets.forEach((t, c) => {
  svg.append("text").attr("class", "lbl")
    .attr("x", topLeft + (c + 0.5) * panelWidth).attr("y", 12)
    .attr("text-anchor", "middle").attr("fill", ink).text(t);
});
bottomOffsets.forEach((t, c) => {
  svg.append("text").attr("class", "lbl")
    .attr("x", botLeft + (c + 0.5) * panelWidth).attr("y", 469)
    .attr("text-anchor", "middle").attr("fill", ink).text(t);
});

// line names
richText(730, 56, [["[CII] "], ["2", "sup"], ["P"], ["3/2", "sub"], ["−"], ["2", "sup"], ["P"], ["1/2", "sub"]], ink);
richText(752, 129, [["12", "sup"], ["CO (9−8)"]], ink);
richText(752, 151, [["13", "sup"], ["CO (10−9)"]], red);
richText(728, 235, [["o−H"], ["2", "sub"], ["O (1"], ["10", "sub"], ["−1"], ["01", "sub"], [")"]], ink);
richText(728, 322, [["p−H"], ["2", "sub"], ["O (1"], ["11", "sub"], ["−0"], ["00", "sub"], [")"]], ink);
richText(728, 405, [["NH"], ["3", "sub"], [" 1"], ["0", "sub"], ["−0"], ["0", "sub"]], ink);
richText(599, 502, [["13", "sup"], ["CO (5−4)"]], ink);
richText(599, 524, [["C"], ["18", "sup"], ["O (5−4)"]], red);
richText(577, 601, [["o−H"], ["2", "sub"], ["18", "sup"], ["O (1"], ["10", "sub"], ["−1"], ["01", "sub"], [")"]], ink);

// axis titles
richText(botLeft + panelWidth / 2, 656, [["v"], ["lsr", "sub"], [" (km/s)"]], ink, "middle");
richText(0, 0, [["T"], ["mb", "sub"], [" (K)"]], ink, "middle", `translate(144,${botRowsY[1] + botHeight / 2}) rotate(-90)`);
</script>
</body>
</html>
